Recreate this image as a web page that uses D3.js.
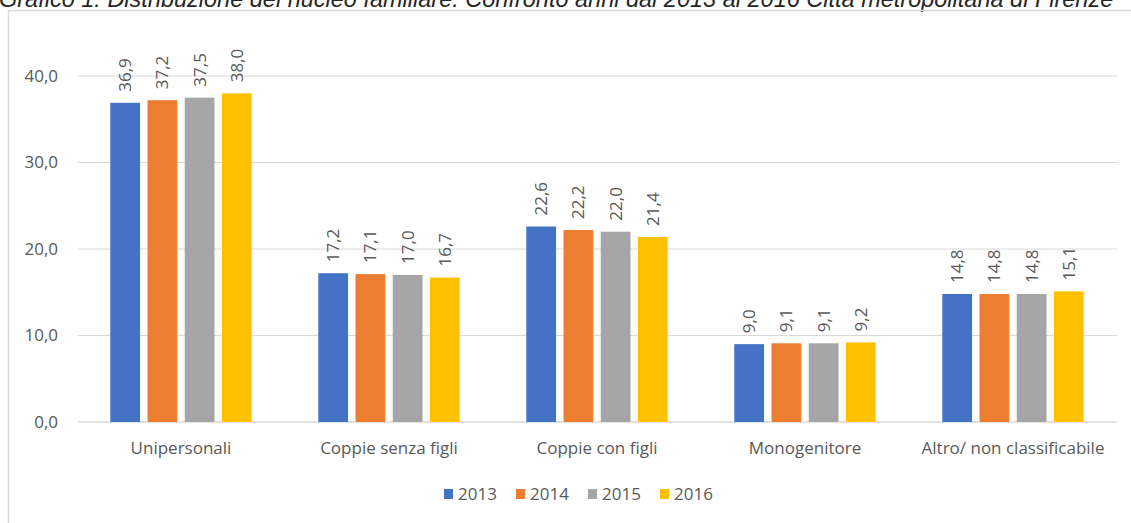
<!DOCTYPE html>
<html>
<head>
<meta charset="utf-8">
<script src="https://cdn.jsdelivr.net/npm/d3@7"></script>
<style>
  body { margin: 0; background: #fff; }
  svg { display: block; }
  .lbl { font-family: "Open Sans", sans-serif; fill: #595959; font-size: 17px; }
</style>
</head>
<body>
<svg width="1131" height="523"></svg>
<script>
// data
var categories = ["Unipersonali", "Coppie senza figli", "Coppie con figli", "Monogenitore", "Altro/ non classificabile"];
var years = ["2013", "2014", "2015", "2016"];
var v2013 = [36.9, 17.2, 22.6, 9.0, 14.8];
var v2014 = [37.2, 17.1, 22.2, 9.1, 14.8];
var v2015 = [37.5, 17.0, 22.0, 9.1, 14.8];
var v2016 = [38.0, 16.7, 21.4, 9.2, 15.1];
var yTicks = [0, 10, 20, 30, 40];
var colors = ["#4472C4", "#ED7D31", "#A5A5A5", "#FFC000"];

var series = [v2013, v2014, v2015, v2016];
var svg = d3.select("svg");
var fmt = function(v) { return d3.format(".1f")(v).replace(".", ","); };

// title (top of it is cut off, as in the picture)
svg.append("text")
  .attr("x", -1).attr("y", 7)
  .style("font-family", "Liberation Sans, Arial, sans-serif")
  .style("font-style", "italic")
  .style("font-size", "23.5px")
  .style("fill", "#262626")
  .text("Grafico 1: Distribuzione del nucleo familiare. Confronto anni dal 2013 al 2016 Città metropolitana di Firenze");

// frame
svg.append("path")
  .attr("d", "M8.5,523 V10.5 H1131")
  .attr("fill", "none").attr("stroke", "#d9d9d9").attr("stroke-width", 1.5);

var x0 = d3.scaleBand().domain(categories).range([77, 1117]).paddingInner(0.32).paddingOuter(0.16);
var x1 = d3.scaleBand().domain(years).range([0, x0.bandwidth()]).paddingInner(0.2);
var y = d3.scaleLinear().domain([0, 40]).range([422, 76]);

// grid
svg.append("g").selectAll("line").data(yTicks).enter().append("line")
  .attr("x1", 78).attr("x2", 1117)
  .attr("y1", d => y(d)).attr("y2", d => y(d))
  .attr("stroke", "#d9d9d9").attr("stroke-width", d => d === 0 ? 1.5 : 1);

// y axis labels
var yAxis = d3.axisLeft(y).tickValues(yTicks).tickFormat(fmt).tickSize(0).tickPadding(0);
var ga = svg.append("g").attr("transform", "translate(58,0)").call(yAxis);
ga.select(".domain").remove();
ga.selectAll("text").attr("class", "lbl").attr("font-family", null).attr("fill", null);
ga.attr("font-size", null);

// bars
var groups = svg.append("g").selectAll("g").data(categories).enter().append("g")
  .attr("transform", d => "translate(" + x0(d) + ",0)");

var cells = (c, i) => years.map((yr, j) => ({yr: yr, j: j, v: series[j][i]}));

groups.selectAll("rect").data(cells)
  .enter().append("rect")
  .attr("x", d => x1(d.yr))
  .attr("width", x1.bandwidth())
  .attr("y", d => y(d.v))
  .attr("height", d => y(0) - y(d.v))
  .attr("fill", d => colors[d.j]);

// value labels
groups.selectAll("text").data(cells)
  .enter().append("text")
  .attr("class", "lbl")
  .attr("transform", d => "translate(" + (x1(d.yr) + x1.bandwidth() / 2) + "," + (y(d.v) - 11) + ") rotate(-90)")
  .attr("dy", "0.35em")
  .text(d => fmt(d.v));

// category labels
svg.append("g").selectAll("text").data(categories).enter().append("text")
  .attr("class", "lbl")
  .attr("x", d => x0(d) + x0.bandwidth() / 2)
  .attr("y", 448).attr("dy", "0.35em")
  .attr("text-anchor", "middle")
  .text(d => d);

// legend
var legX = [444, 516, 588, 660];
var leg = svg.append("g").selectAll("g").data(years).enter().append("g")
  .attr("transform", (d, i) => "translate(" + legX[i] + ",494)");
leg.append("rect").attr("x", 0).attr("y", -5).attr("width", 9).attr("height", 10)
  .attr("fill", (d, i) => colors[i]);
leg.append("text").attr("class", "lbl")
  .attr("x", 14).attr("dy", "0.35em").text(d => d);
</script>
</body>
</html>
